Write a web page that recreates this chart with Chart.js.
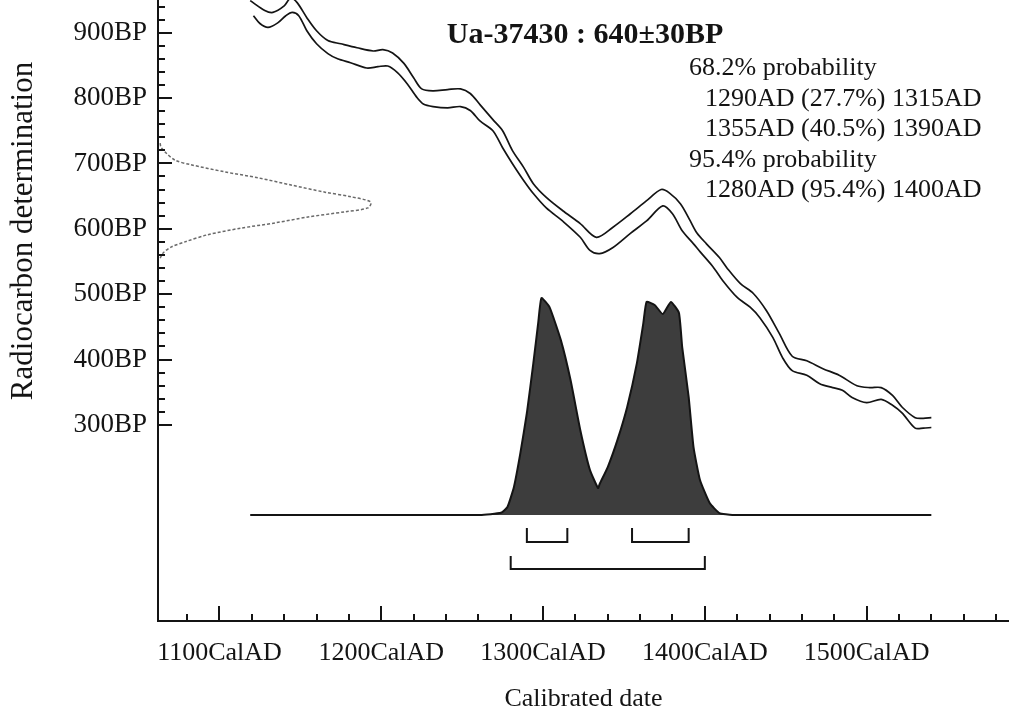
<!DOCTYPE html>
<html>
<head>
<meta charset="utf-8">
<script src="https://cdn.jsdelivr.net/npm/chart.js@4.4.1/dist/chart.umd.min.js"></script>
<style>
  html, body { margin: 0; padding: 0; background: #fff; }
  #wrap { width: 1009px; height: 717px; }
</style>
</head>
<body>
<div id="wrap"><canvas id="chart" width="1009" height="717"></canvas></div>
<script>
// calibration curve, upper edge (cal AD / BP)
const hiYear = [1119, 1128, 1133, 1140, 1144, 1148, 1154, 1160, 1167, 1175, 1185, 1195, 1201, 1207, 1214, 1220, 1225, 1232, 1241, 1249,
  1255, 1261, 1269, 1275, 1281, 1288, 1294, 1302, 1312, 1323, 1333, 1343, 1354, 1364, 1373, 1378, 1385, 1391, 1395, 1401,
  1409, 1414, 1422, 1430, 1438, 1446, 1454, 1463, 1473, 1483, 1494, 1502, 1509, 1516, 1522, 1530, 1535, 1540];
const hiBP = [949, 934, 931, 941, 953, 946, 923, 903, 888, 883, 877, 872, 874, 869, 853, 831, 814, 811, 813, 814,
  807, 790, 767, 750, 720, 694, 669, 648, 628, 608, 587, 602, 623, 643, 660, 655, 638, 612, 594, 577,
  556, 539, 516, 501, 475, 440, 405, 398, 386, 376, 360, 357, 357, 345, 327, 311, 310, 311];

// calibration curve, lower edge
const loYear = [1121, 1125, 1130, 1136, 1141, 1145, 1149, 1154, 1160, 1167, 1173, 1181, 1191, 1198, 1204, 1210, 1216, 1222, 1226, 1232,
  1241, 1249, 1255, 1261, 1269, 1275, 1281, 1288, 1294, 1302, 1312, 1323, 1329, 1335, 1343, 1354, 1364, 1374, 1380, 1386,
  1393, 1397, 1405, 1411, 1420, 1428, 1434, 1442, 1448, 1454, 1463, 1471, 1479, 1485, 1491, 1500, 1509, 1516, 1522, 1530,
  1535, 1540];
const loBP = [926, 914, 908, 915, 926, 931, 926, 903, 883, 868, 860, 854, 846, 848, 849, 839, 822, 801, 791, 787,
  785, 787, 781, 765, 750, 724, 700, 674, 654, 632, 612, 587, 567, 562, 571, 593, 612, 635, 623, 597,
  577, 565, 542, 521, 495, 480, 464, 434, 403, 383, 376, 363, 357, 353, 342, 334, 339, 330, 318, 295,
  295, 296];

// radiocarbon date 640±30BP, relative density along the y axis
const dateBP = [731, 725, 716, 705, 698, 687, 678, 667, 656, 649, 641, 632, 626, 618, 609, 601, 591, 580, 572, 563, 555];
const dateDens = [0.01, 0.014, 0.038, 0.08, 0.155, 0.315, 0.47, 0.625, 0.785, 0.907, 1.0, 0.987, 0.879, 0.705, 0.55, 0.39, 0.235, 0.127, 0.061, 0.024, 0.01];

// calibrated probability distribution
const probYear = [1119, 1261, 1274, 1278, 1282, 1286, 1290, 1294, 1297, 1299, 1304, 1311, 1317, 1323, 1329, 1334, 1335, 1340,
  1346, 1352, 1358, 1362, 1364, 1369, 1374, 1379, 1384, 1386, 1390, 1393, 1397, 1403, 1409, 1417, 1540];
const probDens = [0, 0, 0.01, 0.037, 0.129, 0.286, 0.47, 0.70, 0.885, 1.0, 0.958, 0.806, 0.622, 0.392, 0.207, 0.124, 0.143, 0.221,
  0.346, 0.498, 0.70, 0.885, 0.982, 0.968, 0.926, 0.982, 0.931, 0.774, 0.544, 0.313, 0.161, 0.055, 0.009, 0, 0];

// ranges: [from, to, percent]
const ranges68 = [[1290, 1315, 27.7], [1355, 1390, 40.5]];
const ranges95 = [[1280, 1400, 95.4]];

const TITLE = "Ua-37430 : 640±30BP";
const XTITLE = "Calibrated date";
const YTITLE = "Radiocarbon determination";
const FONT = "Liberation Serif";
const INK = "#141414";

const pts = (xs, ys) => xs.map((v, i) => ({ x: v, y: ys[i] }));

function bracket(r, low, high) {
  return {
    data: [{ x: r[0], y: high }, { x: r[0], y: low }, { x: r[1], y: low }, { x: r[1], y: high }],
    xAxisID: "x", yAxisID: "yp", showLine: true, tension: 0,
    borderColor: INK, borderWidth: 2, pointRadius: 0, fill: false,
  };
}

const textLines = [
  { t: "68.2% probability", indent: 0 },
  ...ranges68.map(r => ({ t: `${r[0]}AD (${r[2]}%) ${r[1]}AD`, indent: 1 })),
  { t: "95.4% probability", indent: 0 },
  ...ranges95.map(r => ({ t: `${r[0]}AD (${r[2]}%) ${r[1]}AD`, indent: 1 })),
];

// no extra room for the empty minor-tick labels
const noPad = s => { s.paddingTop = 0; s.paddingBottom = 0; s.paddingLeft = 0; s.paddingRight = 0; };

const decor = {
  id: "decor",
  afterDraw(chart) {
    const ctx = chart.ctx, xs = chart.scales.x, ys = chart.scales.y;
    ctx.save();
    ctx.strokeStyle = INK; ctx.lineWidth = 2;
    ctx.beginPath();
    xs.ticks.forEach(t => {
      const px = Math.round(xs.getPixelForValue(t.value));
      const len = t.value % 100 === 0 ? 15 : 7;
      ctx.moveTo(px, xs.top); ctx.lineTo(px, xs.top - len);
    });
    ys.ticks.forEach(t => {
      if (t.value < 300) return;
      const py = Math.round(ys.getPixelForValue(t.value));
      const len = t.value % 100 === 0 ? 14 : 7;
      ctx.moveTo(ys.right, py); ctx.lineTo(ys.right + len, py);
    });
    ctx.stroke();

    ctx.fillStyle = INK;
    ctx.textBaseline = "alphabetic";
    ctx.font = `bold 30px "${FONT}"`;
    ctx.textAlign = "center";
    ctx.fillText(TITLE, 585, 43);

    ctx.font = `26px "${FONT}"`;
    ctx.textAlign = "left";
    textLines.forEach((l, i) => ctx.fillText(l.t, l.indent ? 705 : 689, 75 + 30.5 * i));

    ctx.translate(32, 231);
    ctx.rotate(-Math.PI / 2);
    ctx.font = `31px "${FONT}"`;
    ctx.textAlign = "center";
    ctx.fillText(YTITLE, 0, 0);
    ctx.restore();
  },
};

new Chart(document.getElementById("chart"), {
  type: "scatter",
  data: {
    datasets: [
      { data: pts(probYear, probDens), xAxisID: "x", yAxisID: "yp", showLine: true, tension: 0.15,
        borderColor: INK, borderWidth: 2, backgroundColor: "#3d3d3d", fill: "origin", pointRadius: 0 },
      { data: pts(hiYear, hiBP), xAxisID: "x", yAxisID: "y", showLine: true, tension: 0.3,
        borderColor: INK, borderWidth: 1.7, pointRadius: 0 },
      { data: pts(loYear, loBP), xAxisID: "x", yAxisID: "y", showLine: true, tension: 0.3,
        borderColor: INK, borderWidth: 1.7, pointRadius: 0 },
      { data: pts(dateDens, dateBP), xAxisID: "xd", yAxisID: "y", showLine: true, tension: 0.3,
        borderColor: "#6a6a6a", borderWidth: 1.5, borderDash: [3, 2], pointRadius: 0 },
      ...ranges68.map(r => bracket(r, -0.124, -0.06)),
      ...ranges95.map(r => bracket(r, -0.249, -0.189)),
    ],
  },
  options: {
    responsive: false, animation: false, devicePixelRatio: 1,
    layout: { padding: 0 },
    plugins: { legend: { display: false }, tooltip: { enabled: false } },
    scales: {
      x: {
        type: "linear", position: "bottom", min: 1062, max: 1588,
        grid: { display: false, drawTicks: false },
        border: { display: true, color: INK, width: 2 },
        ticks: {
          stepSize: 20, includeBounds: false, autoSkip: false, maxRotation: 0, padding: 17,
          color: INK, font: { family: FONT, size: 26 },
          callback: v => v % 100 === 0 ? v + "CalAD" : "",
        },
        title: { display: true, text: XTITLE, color: INK, font: { family: FONT, size: 26 }, padding: { top: 0, bottom: 2 } },
        afterFit: s => { s.height = 96; noPad(s); },
      },
      y: {
        type: "linear", position: "left", min: 0, max: 950,
        grid: { display: false, drawTicks: false },
        border: { display: true, color: INK, width: 2 },
        ticks: {
          stepSize: 20, includeBounds: false, autoSkip: false, padding: 11,
          color: INK, font: { family: FONT, size: 27 },
          callback: v => (v >= 300 && v % 100 === 0) ? v + "BP" : "",
        },
        afterFit: s => { s.width = 158; noPad(s); },
      },
      xd: { type: "linear", axis: "x", position: "bottom", display: false, min: 0, max: 4 },
      yp: { type: "linear", axis: "y", position: "left", display: false, min: -0.4885, max: 2.3733 },
    },
  },
  plugins: [decor],
});
</script>
</body>
</html>
